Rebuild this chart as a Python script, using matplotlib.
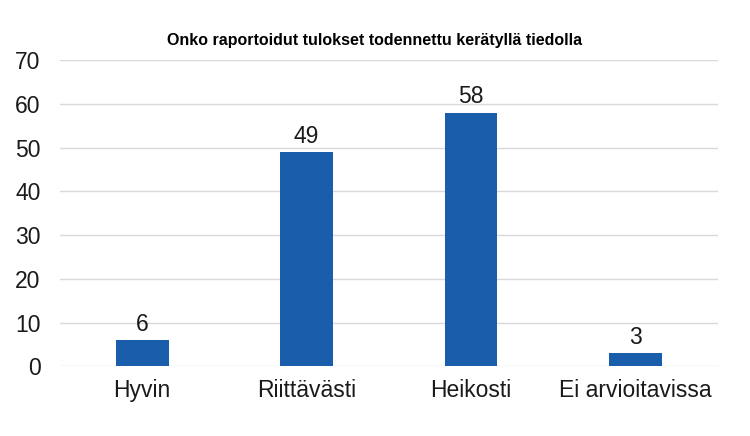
import matplotlib

matplotlib.use("Agg")
import matplotlib.pyplot as plt

TITLE = "Onko raportoidut tulokset todennettu kerätyllä tiedolla"
CATEGORIES = ["Hyvin", "Riittävästi", "Heikosti", "Ei arvioitavissa"]
VALUES = [6, 49, 58, 3]
Y_TICKS = [0, 10, 20, 30, 40, 50, 60, 70]

BAR_COLOR = "#1a5eab"
GRID_COLOR = "#d9d9d9"

plt.rcParams["font.family"] = ["Liberation Sans", "DejaVu Sans"]

fig = plt.figure(figsize=(7.5, 4.36), dpi=100)
ax = fig.add_axes([0.08, 0.16, 0.877, 0.702])

x = range(len(CATEGORIES))
bars = ax.bar(x, VALUES, width=0.32, color=BAR_COLOR, zorder=3)
for rect, v in zip(bars, VALUES):
    ax.annotate(str(v), (rect.get_x() + rect.get_width() / 2, v),
                xytext=(0, 3), textcoords="offset points",
                ha="center", va="bottom", fontsize=16.5, color="#1a1a1a")

ax.set_xlim(-0.5, len(CATEGORIES) - 0.5)
ax.set_ylim(0, 70)
ax.set_yticks(Y_TICKS)
ax.set_xticks(list(x))
ax.set_xticklabels(CATEGORIES, fontsize=16.5)
ax.tick_params(axis="y", labelsize=16.5, length=0, pad=14)
ax.tick_params(axis="x", length=0, pad=9)
for lbl in ax.get_xticklabels() + ax.get_yticklabels():
    lbl.set_color("#1a1a1a")

ax.yaxis.grid(True, color=GRID_COLOR, linewidth=1, zorder=0)
for s in ax.spines.values():
    s.set_visible(False)

fig.text(0.5, 0.908, TITLE, ha="center", va="center", fontsize=11.5, fontweight="bold")

fig.savefig("out.png", dpi=100)
